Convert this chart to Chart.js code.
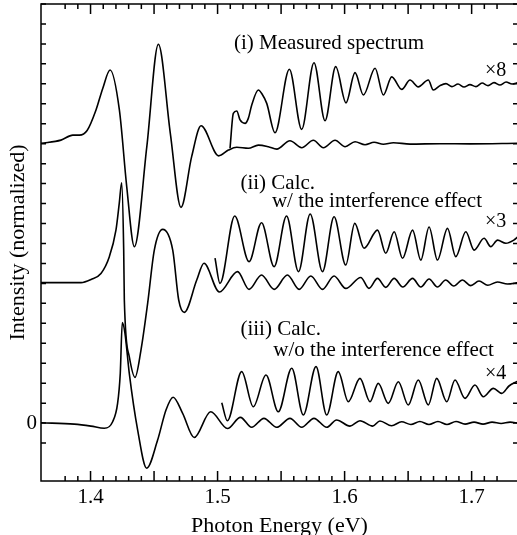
<!DOCTYPE html>
<html>
<head>
<meta charset="utf-8">
<script src="https://cdn.jsdelivr.net/npm/chart.js@4.4.1/dist/chart.umd.min.js"></script>
<style>
  html, body { margin: 0; padding: 0; background: #fff; overflow: hidden; }
  #chart { display: block; }
</style>
</head>
<body>
<canvas id="chart" width="522" height="535"></canvas>
<script>
"use strict";

// Axis ranges (photon energy in eV, intensity in offset units)
var xRange = [1.361, 1.7365];
var yRange = [-2.9, 21.0];
var xTickLabels = ['1.4', '1.5', '1.6', '1.7'];
var yTickLabels = ['0'];

// (i) Measured spectrum, offset +14
var measured = [
    [1.361, 14.02], [1.3767, 14.18], [1.3860, 14.43], [1.3912, 14.43], [1.3973, 14.66],
    [1.4043, 15.69], [1.4096, 16.77], [1.4154, 17.69], [1.4227, 15.69], [1.4285, 11.84],
    [1.4345, 8.84], [1.4443, 13.85], [1.4534, 18.98], [1.4628, 14.52], [1.4712, 10.81],
    [1.4796, 13.35], [1.4870, 14.90], [1.5009, 13.39], [1.5085, 13.68], [1.5151, 13.82],
    [1.5242, 13.77], [1.5321, 13.93], [1.5400, 13.85], [1.5466, 13.73], [1.5570, 14.15],
    [1.5662, 13.80], [1.5754, 14.17], [1.5833, 13.80], [1.5925, 14.17], [1.6004, 13.85],
    [1.6082, 14.10], [1.6161, 13.95], [1.6232, 14.07], [1.6305, 13.97], [1.6384, 14.05],
    [1.6515, 13.98], [1.6751, 14.00], [1.6987, 13.99], [1.7365, 14.02]
];
// (i) magnified x8
var measuredX8 = [
    [1.5098, 13.77], [1.5124, 15.52], [1.5151, 15.64], [1.5177, 15.19], [1.5216, 15.02],
    [1.5242, 15.27], [1.5269, 15.94], [1.5321, 16.69], [1.5350, 16.49], [1.5387, 16.02],
    [1.5452, 14.55], [1.5565, 17.73], [1.5662, 14.72], [1.5759, 18.06], [1.5846, 15.15],
    [1.5930, 17.86], [1.6011, 16.05], [1.6082, 17.56], [1.6148, 16.44], [1.6240, 17.78],
    [1.6305, 16.44], [1.6371, 17.35], [1.6450, 16.72], [1.6515, 17.19], [1.6580, 16.85],
    [1.6659, 17.19], [1.6698, 16.69], [1.6751, 16.91], [1.6798, 17.01], [1.6845, 16.86],
    [1.6893, 16.99], [1.6940, 16.84], [1.6987, 16.96], [1.7034, 16.86], [1.7082, 17.04],
    [1.7129, 16.91], [1.7176, 17.06], [1.7223, 16.94], [1.7271, 17.09], [1.7318, 16.99],
    [1.7365, 17.06]
];

// (ii) Calc. with interference effect, offset +7
var withInterference = [
    [1.361, 7.04], [1.3925, 7.04], [1.4004, 7.20], [1.4082, 7.50], [1.4148, 8.34],
    [1.4200, 9.67], [1.4226, 11.01], [1.4245, 12.04], [1.4261, 8.67], [1.4266, 6.17],
    [1.4305, 3.33], [1.4350, 2.29], [1.4397, 3.66], [1.4450, 6.02], [1.4502, 8.67],
    [1.4568, 9.71], [1.4647, 8.67], [1.4694, 6.17], [1.4738, 5.55], [1.4836, 7.17],
    [1.4893, 8.01], [1.5014, 6.57], [1.5157, 7.59], [1.5248, 6.70], [1.5346, 7.42],
    [1.5445, 6.70], [1.5550, 7.42], [1.5642, 6.70], [1.5734, 7.37], [1.5826, 6.70],
    [1.5917, 7.37], [1.6009, 6.75], [1.6127, 7.30], [1.6192, 6.75], [1.6259, 7.25],
    [1.6324, 6.80], [1.6390, 7.25], [1.6458, 6.82], [1.6535, 7.25], [1.6600, 6.82],
    [1.6665, 7.22], [1.6731, 6.82], [1.6796, 7.17], [1.6859, 6.87], [1.6928, 7.17],
    [1.6993, 6.89], [1.7058, 7.12], [1.7127, 6.91], [1.7203, 7.07], [1.7282, 6.97],
    [1.7365, 7.04]
];
// (ii) magnified x3
var withInterferenceX3 = [
    [1.4980, 8.27], [1.5019, 7.00], [1.5135, 10.38], [1.5248, 8.09], [1.5346, 10.04],
    [1.5445, 7.84], [1.5543, 10.38], [1.5637, 7.59], [1.5729, 10.48], [1.5826, 7.59],
    [1.5917, 10.34], [1.6009, 7.92], [1.6080, 10.01], [1.6153, 8.76], [1.6259, 9.67],
    [1.6324, 8.51], [1.6390, 9.59], [1.6456, 8.26], [1.6535, 9.67], [1.6600, 8.17],
    [1.6665, 9.83], [1.6731, 8.17], [1.6810, 9.76], [1.6875, 8.34], [1.6954, 9.59],
    [1.7020, 8.67], [1.7098, 9.26], [1.7151, 8.84], [1.7204, 9.17], [1.7269, 9.01],
    [1.7332, 9.17], [1.7365, 9.34]
];

// (iii) Calc. without interference effect, offset 0
var withoutInterference = [
    [1.361, 0.02], [1.3872, -0.05], [1.4003, -0.15], [1.4108, -0.26], [1.4174, 0.07],
    [1.4213, 0.99], [1.4234, 2.49], [1.4250, 5.04], [1.4271, 4.50], [1.4305, 2.49],
    [1.4371, -0.35], [1.4442, -2.26], [1.4528, -0.85], [1.4594, 0.66], [1.4650, 1.30],
    [1.4725, 0.49], [1.4816, -0.72], [1.4946, 0.57], [1.5078, -0.27], [1.5180, 0.29],
    [1.5268, -0.21], [1.5365, 0.24], [1.5465, -0.21], [1.5570, 0.24], [1.5662, -0.21],
    [1.5759, 0.24], [1.5859, -0.21], [1.5937, 0.16], [1.6042, -0.15], [1.6121, 0.12],
    [1.6221, -0.15], [1.6278, 0.11], [1.6370, -0.13], [1.6449, 0.07], [1.6522, -0.07],
    [1.6593, 0.08], [1.6664, -0.07], [1.6735, 0.08], [1.6806, -0.07], [1.6877, 0.08],
    [1.6948, -0.05], [1.7019, 0.05], [1.7090, -0.05], [1.7161, 0.05], [1.7232, -0.02],
    [1.7303, 0.05], [1.7365, 0.00]
];
// (iii) magnified x4
var withoutInterferenceX4 = [
    [1.5033, 1.02], [1.5077, 0.12], [1.5190, 2.58], [1.5281, 0.82], [1.5381, 2.41],
    [1.5478, 0.57], [1.5584, 2.75], [1.5675, 0.41], [1.5775, 2.83], [1.5859, 0.41],
    [1.5950, 2.58], [1.6029, 1.07], [1.6121, 2.24], [1.6200, 1.07], [1.6265, 1.99],
    [1.6344, 0.99], [1.6423, 2.07], [1.6501, 0.91], [1.6580, 2.16], [1.6659, 0.91],
    [1.6725, 2.24], [1.6804, 1.07], [1.6869, 2.16], [1.6948, 1.24], [1.7026, 1.91],
    [1.7092, 1.32], [1.7171, 1.74], [1.7237, 1.49], [1.7294, 1.86], [1.7365, 2.11]
];

// Text labels placed in data coordinates
var annotations = [
    { text: '(i) Measured spectrum', x: 1.5129, y: 18.77, size: 21 },
    { text: '\u00d78', x: 1.7105, y: 17.39, size: 20 },
    { text: '(ii) Calc.', x: 1.5180, y: 11.75, size: 21 },
    { text: 'w/ the interference effect', x: 1.5428, y: 10.85, size: 21 },
    { text: '\u00d73', x: 1.7105, y: 9.84, size: 20 },
    { text: '(iii) Calc.', x: 1.5180, y: 4.41, size: 21 },
    { text: 'w/o the interference effect', x: 1.5439, y: 3.36, size: 21 },
    { text: '\u00d74', x: 1.7105, y: 2.21, size: 20 }
];

var SERIF = '"Liberation Serif", "Times New Roman", "DejaVu Serif", serif';

function toPoints(arr) {
    return arr.map(function (p) { return { x: p[0], y: p[1] }; });
}

function curve(arr) {
    return {
        data: toPoints(arr),
        borderColor: '#000',
        borderWidth: 1.6,
        pointRadius: 0,
        fill: false,
        cubicInterpolationMode: 'monotone'
    };
}

function onStep(v, step) {
    var r = v / step;
    return Math.abs(r - Math.round(r)) < 1e-6;
}

// Frame with inward ticks on all four sides
var frameTicks = {
    id: 'frameTicks',
    afterDatasetsDraw: function (chart) {
        var ctx = chart.ctx;
        var a = chart.chartArea;
        var xs = chart.scales.x;
        var ys = chart.scales.y;
        ctx.save();
        ctx.strokeStyle = '#000';
        ctx.lineWidth = 1.5;
        ctx.beginPath();
        xs.ticks.forEach(function (t) {
            var px = xs.getPixelForValue(t.value);
            var len = onStep(t.value, 0.05) ? 10 : 5;
            ctx.moveTo(px, a.bottom);
            ctx.lineTo(px, a.bottom - len);
            ctx.moveTo(px, a.top);
            ctx.lineTo(px, a.top + len);
        });
        ys.ticks.forEach(function (t) {
            var py = ys.getPixelForValue(t.value);
            ctx.moveTo(a.left, py);
            ctx.lineTo(a.left + 5, py);
            ctx.moveTo(a.right, py);
            ctx.lineTo(a.right - 5, py);
        });
        ctx.stroke();
        ctx.strokeRect(a.left, a.top, a.right - a.left, a.bottom - a.top);
        ctx.restore();
    }
};

var textLabels = {
    id: 'textLabels',
    afterDraw: function (chart) {
        var ctx = chart.ctx;
        var xs = chart.scales.x;
        var ys = chart.scales.y;
        ctx.save();
        ctx.fillStyle = '#000';
        ctx.textAlign = 'left';
        ctx.textBaseline = 'alphabetic';
        annotations.forEach(function (l) {
            ctx.font = l.size + 'px ' + SERIF;
            ctx.fillText(l.text, xs.getPixelForValue(l.x), ys.getPixelForValue(l.y));
        });
        ctx.restore();
    }
};

Chart.defaults.color = '#000';
Chart.defaults.font.family = SERIF;

new Chart(document.getElementById('chart').getContext('2d'), {
    type: 'line',
    data: {
        datasets: [
            curve(measured), curve(measuredX8),
            curve(withInterference), curve(withInterferenceX3),
            curve(withoutInterference), curve(withoutInterferenceX4)
        ]
    },
    options: {
        responsive: false,
        animation: false,
        events: [],
        layout: { padding: { top: 4, right: 4, left: 0, bottom: 0 } },
        scales: {
            x: {
                type: 'linear',
                position: 'bottom',
                min: xRange[0],
                max: xRange[1],
                grid: { display: false, drawTicks: false },
                border: { display: false },
                afterFit: function (scale) {
                    scale.height = 54;
                    scale.paddingLeft = 0;
                    scale.paddingRight = 0;
                },
                afterBuildTicks: function (scale) {
                    scale.ticks = scale.ticks.filter(function (t) { return onStep(t.value, 0.01); });
                },
                ticks: {
                    stepSize: 0.01,
                    maxTicksLimit: 1000,
                    autoSkip: false,
                    maxRotation: 0,
                    padding: 4,
                    font: { size: 21 },
                    callback: function (value) {
                        var s = (Math.round(value * 10) / 10).toFixed(1);
                        return onStep(value, 0.1) && xTickLabels.indexOf(s) >= 0 ? s : '';
                    }
                },
                title: {
                    display: true,
                    text: 'Photon Energy (eV)',
                    font: { size: 22 },
                    padding: { top: 0, bottom: -4 }
                }
            },
            y: {
                type: 'linear',
                min: yRange[0],
                max: yRange[1],
                grid: { display: false, drawTicks: false },
                border: { display: false },
                afterFit: function (scale) {
                    scale.width = 41;
                    scale.paddingTop = 0;
                    scale.paddingBottom = 0;
                },
                afterBuildTicks: function (scale) {
                    scale.ticks = scale.ticks.filter(function (t) { return onStep(t.value, 1); });
                },
                ticks: {
                    stepSize: 1,
                    maxTicksLimit: 1000,
                    autoSkip: false,
                    padding: 4,
                    font: { size: 21 },
                    callback: function (value) {
                        var s = String(Math.round(value));
                        return onStep(value, 1) && yTickLabels.indexOf(s) >= 0 ? s : '';
                    }
                },
                title: {
                    display: true,
                    text: 'Intensity (normalized)',
                    font: { size: 22 },
                    padding: { top: 5, bottom: 0 }
                }
            }
        },
        plugins: {
            legend: { display: false },
            tooltip: { enabled: false }
        }
    },
    plugins: [frameTicks, textLabels]
});
</script>
</body>
</html>
